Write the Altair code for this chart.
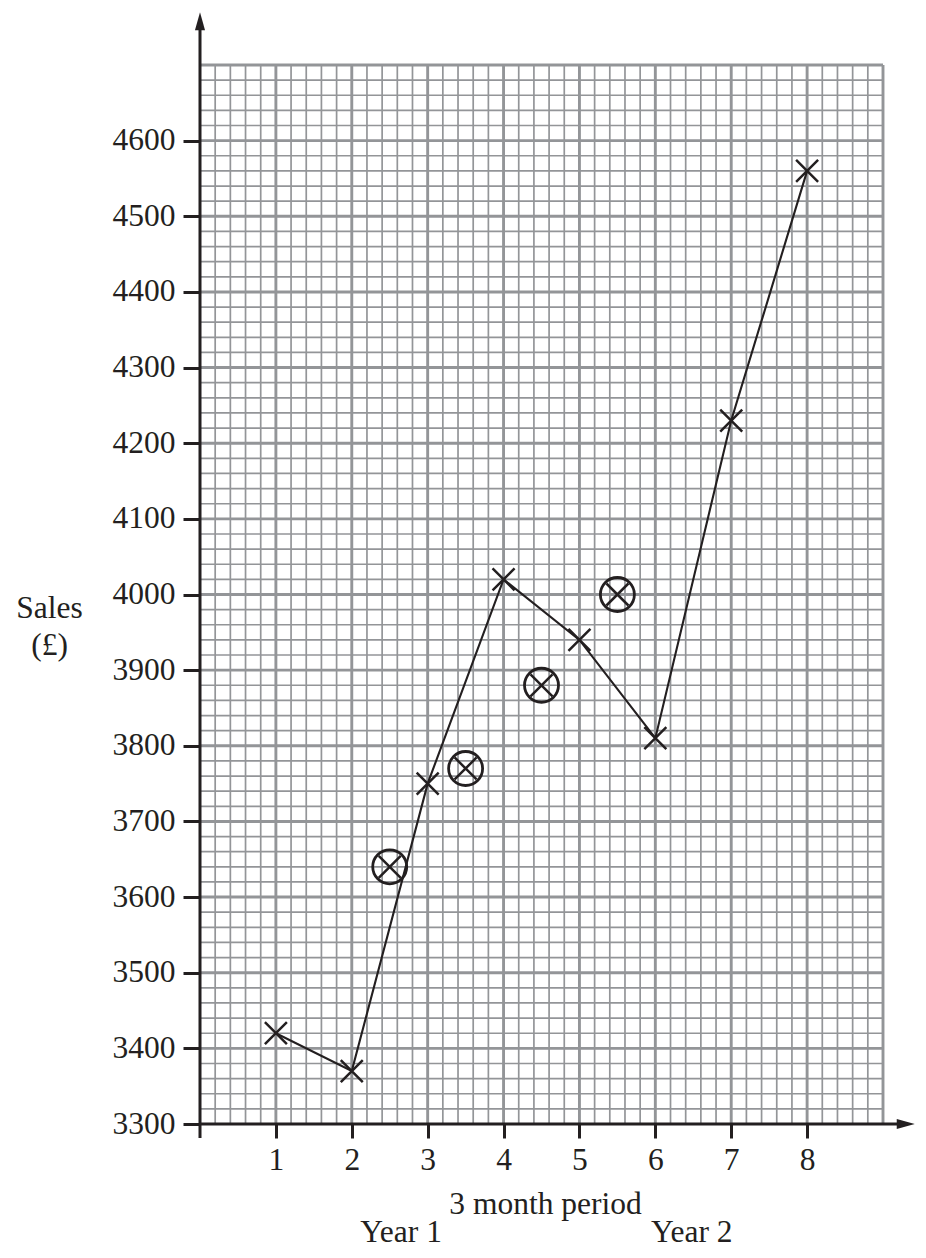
import altair as alt
import pandas as pd
import numpy as np

# ---- data ----
periods = [1, 2, 3, 4, 5, 6, 7, 8]
sales = [3420, 3370, 3750, 4020, 3940, 3810, 4230, 4560]
ma_periods = [2.5, 3.5, 4.5, 5.5]
moving_avg = [3640, 3770, 3880, 4000]
x_tick_values = [1, 2, 3, 4, 5, 6, 7, 8]
y_tick_values = [3300, 3400, 3500, 3600, 3700, 3800, 3900, 4000,
                 4100, 4200, 4300, 4400, 4500, 4600]
year_labels = ["Year 1", "Year 2"]
year_label_x = [2.65, 6.48]
year_label_y = [3144, 3144]

INK = "#231f20"
GRID = "#939598"
FONT = "Liberation Serif, Times New Roman, DejaVu Serif, serif"
FS = 31.5

X_MIN, X_MAX = 0, 9
Y_MIN, Y_MAX = 3300, 4700

xs = alt.Scale(domain=[X_MIN, X_MAX], nice=False, zero=False)
ys = alt.Scale(domain=[Y_MIN, Y_MAX], nice=False, zero=False)

x_axis = alt.Axis(values=x_tick_values, format="d", domain=False, grid=False,
                  tickSize=14, tickWidth=3, tickColor=INK,
                  labelFont=FONT, labelFontSize=FS, labelColor=INK,
                  labelPadding=6, labelFlush=False,
                  title="3 month period", titleFont=FONT, titleFontSize=FS,
                  titleFontWeight="normal", titleColor=INK,
                  titleX=345, titleY=89, titleAlign="center",
                  titleBaseline="alphabetic")
y_axis = alt.Axis(values=y_tick_values, format="d", domain=False, grid=False,
                  tickSize=17, tickWidth=3, tickColor=INK,
                  labelFont=FONT, labelFontSize=FS, labelColor=INK,
                  labelPadding=8, labelFlush=False,
                  title=["Sales", "(£)"], titleFont=FONT, titleFontSize=FS,
                  titleFontWeight="normal", titleColor=INK, titleAngle=0,
                  titleX=-151, titleY=552, titleAlign="center",
                  titleBaseline="alphabetic", titleLineHeight=37)


def X(field="x"):
    return alt.X(f"{field}:Q", scale=xs, axis=x_axis)


def Y(field="y"):
    return alt.Y(f"{field}:Q", scale=ys, axis=y_axis)


# ---- grid paper ----
minor_x = [round(v, 2) for v in np.arange(X_MIN, X_MAX + 0.001, 0.2)
           if abs(v - round(v)) > 1e-6]
minor_y = [v for v in range(Y_MIN, Y_MAX + 1, 20) if v % 100 != 0]
major_x = list(range(X_MIN + 1, X_MAX + 1))
major_y = list(range(Y_MIN + 100, Y_MAX + 1, 100))

vminor = pd.DataFrame({"x": minor_x, "y": Y_MIN, "y2": Y_MAX})
hminor = pd.DataFrame({"y": minor_y, "x": X_MIN, "x2": X_MAX})
vmajor = pd.DataFrame({"x": major_x, "y": Y_MIN, "y2": Y_MAX})
hmajor = pd.DataFrame({"y": major_y, "x": X_MIN, "x2": X_MAX})

g1 = alt.Chart(vminor).mark_rule(color=GRID, strokeWidth=1.7).encode(
    x=X(), y=Y(), y2="y2:Q")
g2 = alt.Chart(hminor).mark_rule(color=GRID, strokeWidth=1.7).encode(
    x=X(), x2="x2:Q", y=Y())
g3 = alt.Chart(vmajor).mark_rule(color=GRID, strokeWidth=2.9).encode(
    x=X(), y=Y(), y2="y2:Q")
g4 = alt.Chart(hmajor).mark_rule(color=GRID, strokeWidth=2.9).encode(
    x=X(), x2="x2:Q", y=Y())

# ---- axes lines with arrows ----
yaxis_line = pd.DataFrame({"x": [0], "y": [3281.5], "y2": [4750]})
xaxis_line = pd.DataFrame({"x": [0], "x2": [9.25], "y": [Y_MIN]})
ax1 = alt.Chart(yaxis_line).mark_rule(color=INK, strokeWidth=3).encode(
    x=X(), y=Y(), y2="y2:Q")
ax2 = alt.Chart(xaxis_line).mark_rule(color=INK, strokeWidth=3).encode(
    x=X(), x2="x2:Q", y=Y())

up_arrow = pd.DataFrame({"x": [0], "y": [4758]})
right_arrow = pd.DataFrame({"x": [9.3], "y": [Y_MIN]})
arr1 = alt.Chart(up_arrow).mark_point(
    shape="M0,-1L0.56,1L-0.56,1Z", size=324, filled=True, color=INK,
    opacity=1, strokeWidth=0).encode(x=X(), y=Y())
arr2 = alt.Chart(right_arrow).mark_point(
    shape="M1,0L-1,-0.56L-1,0.56Z", size=324, filled=True, color=INK,
    opacity=1, strokeWidth=0).encode(x=X(), y=Y())

# ---- data marks ----
sales_df = pd.DataFrame({"x": periods, "y": sales})
ma_df = pd.DataFrame({"x": ma_periods, "y": moving_avg})

CROSS = "M-1,-1L1,1M-1,1L1,-1"
line = alt.Chart(sales_df).mark_line(color=INK, strokeWidth=2.1).encode(
    x=X(), y=Y())
crosses = alt.Chart(sales_df).mark_point(
    shape=CROSS, size=484, filled=False, color=INK, opacity=1,
    strokeWidth=2.5).encode(x=X(), y=Y())
ma_cross = alt.Chart(ma_df).mark_point(
    shape=CROSS, size=484, filled=False, color=INK, opacity=1,
    strokeWidth=2.5).encode(x=X(), y=Y())
ma_circle = alt.Chart(ma_df).mark_point(
    shape="circle", size=1156, filled=False, color=INK, opacity=1,
    strokeWidth=2.8).encode(x=X(), y=Y())

# ---- Year labels ----
years_df = pd.DataFrame({"x": year_label_x, "y": year_label_y,
                         "label": year_labels})
years = alt.Chart(years_df).mark_text(
    font=FONT, fontSize=FS, color=INK, align="center",
    baseline="alphabetic").encode(x=X(), y=Y(), text="label:N")

chart = alt.layer(
    g1, g2, g3, g4, line, crosses, ma_circle, ma_cross,
    ax1, ax2, arr1, arr2, years
).properties(
    width=683, height=1059,
    autosize=alt.AutoSizeParams(type="none"),
    padding={"left": 192, "top": 57, "right": 35, "bottom": 128},
    background="white",
).configure_view(stroke=None)

chart.save("out.html", embed_options={"renderer": "svg", "actions": False})
